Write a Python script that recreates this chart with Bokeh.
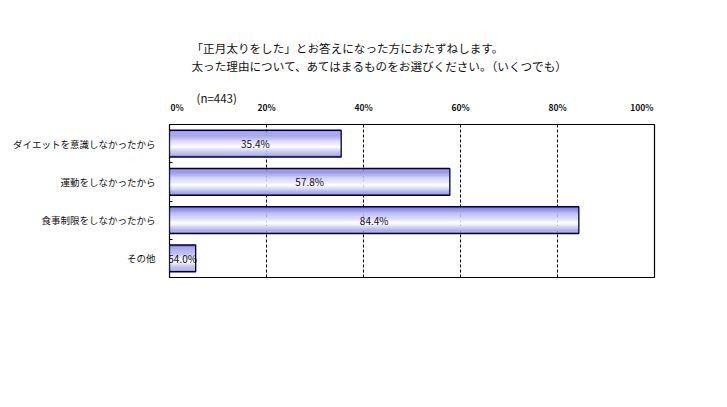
from bokeh.plotting import figure
from bokeh.models import Range1d, FixedTicker, ColumnDataSource, Grid
from bokeh.layouts import column
from bokeh.core.properties import value
from bokeh.embed import file_html
from bokeh.resources import INLINE

categories = ["ダイエットを意識しなかったから", "運動をしなかったから", "食事制限をしなかったから", "その他"]
values = [35.4, 57.8, 84.4, 5.4]
bar_labels = ["35.4%", "57.8%", "84.4%", "54.0%"]
x_ticks = [0, 20, 40, 60, 80, 100]
x_tick_labels = ["0%", "20%", "40%", "60%", "80%", "100%"]
title_lines = ["「正月太りをした」とお答えになった方におたずねします。",
               "太った理由について、あてはまるものをお選びください。（いくつでも）"]
n_text = "(n=443)"

JP = "Noto Sans CJK JP"
W = 710
HEAD_H = 124
xr = Range1d(0, 100)

# ---- header: titles, sample size, x tick labels (shares the x scale) ----
head = figure(width=W, height=HEAD_H, output_backend="svg", toolbar_location=None,
              x_range=xr, y_range=Range1d(HEAD_H, 0),
              min_border=0, x_axis_type=None, y_axis_type=None)
head.outline_line_color = None
head.grid.visible = False
head.text(x=[0, 0], y=[47, 65], x_offset=22, text=title_lines, text_baseline="middle",
          text_font=value(JP), text_font_size="11.6px", text_color="#111111")
head.text(x=[0], y=[97], x_offset=27, text=[n_text], text_baseline="middle",
          text_font=value(JP), text_font_size="11.5px", text_color="#111111")
tick_kw = dict(text_baseline="middle", text_font=value(JP), text_font_style="bold",
               text_font_size="8.5px", text_color="#111111")
head.text(x=x_ticks[1:-1], y=[106] * (len(x_ticks) - 2), text=x_tick_labels[1:-1],
          text_align="center", **tick_kw)
head.text(x=x_ticks[:1], y=[106], text=x_tick_labels[:1], text_align="left", x_offset=1, **tick_kw)
head.text(x=x_ticks[-1:], y=[106], text=x_tick_labels[-1:], text_align="right", x_offset=-1, **tick_kw)

# ---- main chart ----
p = figure(width=W, height=390 - HEAD_H, output_backend="svg", toolbar_location=None,
           x_range=xr, y_range=Range1d(4, 0), x_axis_location=None,
           min_border_left=169, min_border_right=56,
           min_border_top=0, min_border_bottom=113)
p.frame_width = 485
p.frame_height = 153
p.background_fill_color = "white"
p.border_fill_color = "white"
p.outline_line_color = "black"
p.outline_line_width = 1.2
p.grid.visible = False

centers = [i + 0.5 for i in range(len(categories))]
bar_h = 0.7

p.add_layout(Grid(dimension=0, ticker=FixedTicker(ticks=[20, 40, 60, 80]),
                  grid_line_color="black", grid_line_dash="3 2", grid_line_width=1))

# gradient strips
N = 24
def col(t):
    top = (125, 125, 232)
    mid = (255, 255, 255)
    bot = (140, 140, 226)
    tm = 0.62
    if t <= tm:
        a, b, f = top, mid, t / tm
    else:
        a, b, f = mid, bot, (t - tm) / (1 - tm)
    return "#%02x%02x%02x" % tuple(int(round(a[i] + (b[i] - a[i]) * f)) for i in range(3))

ys, rights, colors, hs = [], [], [], []
for c, v in zip(centers, values):
    for k in range(N):
        t = (k + 0.5) / N
        ys.append(c - bar_h / 2 + t * bar_h)
        rights.append(v)
        colors.append(col(t))
        hs.append(bar_h / N * 1.15)
p.hbar(y=ys, right=rights, left=0, height=hs, fill_color=colors, line_color=None)

src = ColumnDataSource(dict(y=centers, right=values, mid=[v / 2 for v in values], lab=bar_labels))
p.hbar(y="y", right="right", left=0, height=bar_h, source=src,
       fill_color=None, line_color="#000033", line_width=1.3)
p.text(x="mid", y="y", text="lab", source=src, text_align="center", text_baseline="middle",
       text_font=value(JP), text_font_size="10px", text_color="#111111")

p.yaxis.ticker = FixedTicker(ticks=centers, minor_ticks=[1, 2, 3])
p.yaxis.major_label_overrides = {c: l for c, l in zip(centers, categories)}
p.yaxis.axis_line_color = None
p.yaxis.major_tick_line_color = None
p.yaxis.minor_tick_in = 3
p.yaxis.minor_tick_out = 0
p.yaxis.minor_tick_line_color = "black"
p.yaxis.major_label_text_font = JP
p.yaxis.major_label_text_font_size = "9.5px"
p.yaxis.major_label_text_color = "#111111"
p.yaxis.major_label_standoff = 8

layout = column(head, p, spacing=0)
open("out.html", "w").write(file_html(layout, INLINE))
